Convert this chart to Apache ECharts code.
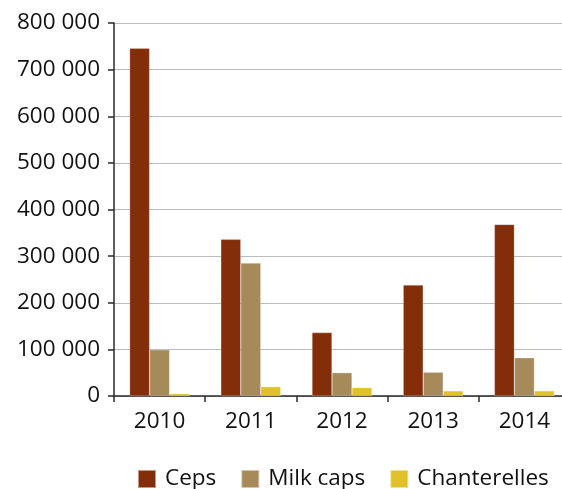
<!DOCTYPE html>
<html><head><meta charset="utf-8">
<script src="https://cdn.jsdelivr.net/npm/echarts@6/dist/echarts.min.js"></script>
<style>html,body{margin:0;padding:0;background:#fff}#c{width:562px;height:489px}</style>
</head><body><div id="c"></div>
<script>
const categories = ['2010', '2011', '2012', '2013', '2014'];
const ceps = [746000, 336000, 136000, 238000, 368000];
const milkCaps = [99000, 285000, 50000, 51000, 82000];
const chanterelles = [5000, 20000, 18000, 11000, 11000];
const yTicks = [0, 100000, 200000, 300000, 400000, 500000, 600000, 700000, 800000];

const font = 'Open Sans';
const chart = echarts.init(document.getElementById('c'));
chart.setOption({
  animation: false,
  textStyle: { fontFamily: font },
  grid: { left: 114, top: 23, width: 456, height: 373, containLabel: false, outerBoundsMode: 'none' },
  legend: {
    left: 137, top: 465, itemWidth: 18, itemHeight: 18, itemGap: 24,
    icon: 'rect', padding: 0,
    textStyle: { fontSize: 22.5, lineHeight: 28, color: '#111', fontFamily: font, padding: [0, 0, 0, 4] },
    data: ['Ceps', 'Milk caps', 'Chanterelles']
  },
  xAxis: {
    type: 'category', data: categories,
    axisLine: { lineStyle: { color: '#2a2a2a', width: 1.5 } },
    axisTick: { show: true, length: 6, inside: false, lineStyle: { color: '#2a2a2a', width: 1.5 } },
    axisLabel: { fontSize: 22.5, color: '#111', margin: 14, fontFamily: font }
  },
  yAxis: {
    type: 'value', min: 0, max: 800000, interval: 100000,
    axisLine: { show: true, lineStyle: { color: '#2a2a2a', width: 1.5 } },
    axisTick: { show: true, length: 6, lineStyle: { color: '#2a2a2a', width: 1.5 } },
    splitLine: { lineStyle: { color: '#bbb', width: 1 } },
    axisLabel: {
      fontSize: 22.5, color: '#111', margin: 14, fontFamily: font,
      formatter: v => yTicks.includes(v) ? String(v).replace(/\B(?=(\d{3})+(?!\d))/g, ' ') : ''
    }
  },
  series: [
    { name: 'Ceps', type: 'bar', data: ceps, barWidth: 20, barGap: '0%',
      itemStyle: { color: '#832d09', borderColor: 'rgba(255,255,255,0.5)', borderWidth: 0.5 } },
    { name: 'Milk caps', type: 'bar', data: milkCaps, barWidth: 20, barGap: '0%',
      itemStyle: { color: '#a68a5a', borderColor: 'rgba(255,255,255,0.5)', borderWidth: 0.5 } },
    { name: 'Chanterelles', type: 'bar', data: chanterelles, barWidth: 20, barGap: '0%',
      itemStyle: { color: '#e0c12a', borderColor: 'rgba(255,255,255,0.5)', borderWidth: 0.5 } }
  ]
});
</script></body></html>
